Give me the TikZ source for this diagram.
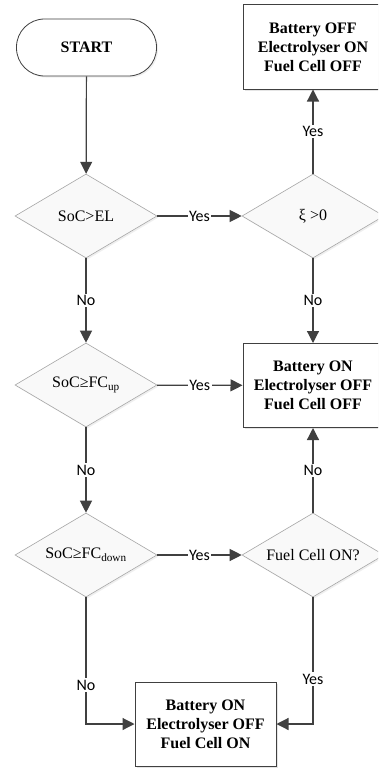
\documentclass[tikz,border=0pt]{standalone}
\usepackage{fontspec}
\setmainfont{Liberation Serif}
\newfontfamily\labfont{Carlito}
\usetikzlibrary{shapes.geometric,arrows.meta,shadows}
\definecolor{linec}{HTML}{404040}
\begin{document}
\begin{tikzpicture}[x=1pt,y=-1pt,
  line/.style={draw=linec, line width=1.2pt},
  arr/.style={line, -{Triangle[length=12pt,width=12pt]}},
  dec/.style={diamond, draw=gray!70, fill=gray!5, line width=0.6pt, aspect=1.69,
    minimum width=142pt, minimum height=84pt, inner sep=0pt,
    font=\fontsize{16}{19}\selectfont,
    drop shadow={opacity=0.12, shadow xshift=1.5pt, shadow yshift=-1.5pt}},
  box/.style={rectangle, draw=linec, fill=white, line width=1pt,
    minimum width=140pt, minimum height=84pt, align=center,
    font=\fontsize{16}{19}\selectfont\bfseries,
    drop shadow={opacity=0.2, shadow xshift=1.5pt, shadow yshift=-1.5pt}},
  startbox/.style={rectangle, rounded corners=28pt, draw=linec, fill=white, line width=0.8pt,
    minimum width=140pt, minimum height=57pt,
    font=\fontsize{16}{19}\selectfont\bfseries,
    drop shadow={opacity=0.12, shadow xshift=1.5pt, shadow yshift=-1.5pt}},
  lab/.style={fill=white, inner sep=1.5pt, font=\labfont\fontsize{16}{19}\selectfont}
]
\useasboundingbox (0,0) rectangle (378,768);
\clip (0,0) rectangle (378,768);
\fill[white] (0,0) rectangle (378,768);

\node[startbox] (start) at (86.5,47.5) {START};
\node[dec] (d1) at (86,216) {SoC>EL};
\node[dec] (d2) at (313,216) {ξ >0};
\node[dec] (d3) at (86,385) {SoC≥FC\textsubscript{up}};
\node[dec] (d4) at (86,555) {SoC≥FC\textsubscript{down}};
\node[dec] (d5) at (313,555) {Fuel Cell ON?};

\node[box] (b1) at (313,47) {Battery OFF\\Electrolyser ON\\Fuel Cell OFF};
\node[box] (b2) at (313,385.5) {Battery ON\\Electrolyser OFF\\Fuel Cell OFF};
\node[box, minimum width=141pt] (b3) at (205.5,724) {Battery ON\\Electrolyser OFF\\Fuel Cell ON};

\draw[arr] (start) -- (d1);
\draw[arr] (d1) -- node[lab] {Yes} (d2);
\draw[arr] (d2) -- node[lab] {Yes} (b1);
\draw[arr] (d1) -- node[lab] {No} (d3);
\draw[arr] (d2) -- node[lab] {No} (b2);
\draw[arr] (d3) -- node[lab] {Yes} (b2);
\draw[arr] (d3) -- node[lab] {No} (d4);
\draw[arr] (d4) -- node[lab] {Yes} (d5);
\draw[arr] (d5) -- node[lab] {No} (b2);
\draw[arr] (d4.south) |- node[lab, pos=0.346] {No} (b3.west);
\draw[arr] (d5.south) |- node[lab, pos=0.323] {Yes} (b3.east);
\end{tikzpicture}
\end{document}
